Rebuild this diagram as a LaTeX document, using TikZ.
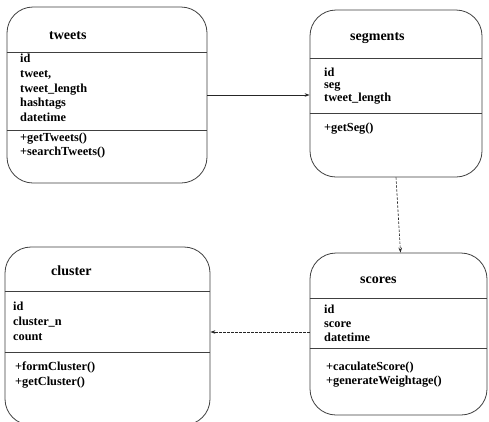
\documentclass[tikz,border=0pt]{standalone}
\usepackage{fontspec}
\setmainfont{Liberation Serif}
\usetikzlibrary{arrows.meta}

\tikzset{
  classbox/.style={draw=black!75, line width=0.8pt, rounded corners=26pt, inner sep=0pt},
  divider/.style={draw=black!75, line width=0.7pt},
  classname/.style={anchor=base west, inner sep=0pt, font=\bfseries\fontsize{14}{16}\selectfont},
  member/.style={anchor=base west, inner sep=0pt, font=\bfseries\fontsize{12.3}{14}\selectfont},
  link/.style={draw=black!85, line width=0.6pt, -{Stealth[length=5pt,width=3.5pt]}},
  deplink/.style={link, dashed, dash pattern=on 2.5pt off 1.5pt}
}

\begin{document}
\begin{tikzpicture}[x=1pt, y=-1pt]
\useasboundingbox[fill=white] (0,0) rectangle (489,421);

% class boxes
\node[classbox, minimum width=200pt, minimum height=176pt] (tweets)   at (107,95)    {};
\node[classbox, minimum width=172pt, minimum height=167pt] (segments) at (396,93.5)  {};
\node[classbox, minimum width=177pt, minimum height=162pt] (scores)   at (398.5,334) {};
\node[classbox, minimum width=205pt, minimum height=178pt] (cluster)  at (107.5,336) {};

% compartments
\draw[divider] (tweets.west |- 0,52)    -- (tweets.east |- 0,52);
\draw[divider] (tweets.west |- 0,130)   -- (tweets.east |- 0,130);
\draw[divider] (segments.west |- 0,58)  -- (segments.east |- 0,58);
\draw[divider] (segments.west |- 0,113) -- (segments.east |- 0,113);
\draw[divider] (scores.west |- 0,298)   -- (scores.east |- 0,298);
\draw[divider] (scores.west |- 0,348)   -- (scores.east |- 0,348);
\draw[divider] (cluster.west |- 0,291)  -- (cluster.east |- 0,291);
\draw[divider] (cluster.west |- 0,352)  -- (cluster.east |- 0,352);

% tweets
\node[classname] (tw-name) at (49,39.5) {tweets};
\node[member] (tw-a1) at (20,62.7)  {id};
\node[member] (tw-a2) at (20,77.4)  {tweet,};
\node[member] (tw-a3) at (20,92.1)  {tweet\_length};
\node[member] (tw-a4) at (20,106.8) {hashtags};
\node[member] (tw-a5) at (20,121.5) {datetime};
\node[member] (tw-m1) at (20,141)   {+getTweets()};
\node[member] (tw-m2) at (20,155)   {+searchTweets()};

% segments
\node[classname] (sg-name) at (350,40) {segments};
\node[member] (sg-a1) at (324,76)   {id};
\node[member] (sg-a2) at (324,88.5) {seg};
\node[member] (sg-a3) at (324,101)  {tweet\_length};
\node[member] (sg-m1) at (324,131)  {+getSeg()};

% scores
\node[classname] (sc-name) at (360,283) {scores};
\node[member] (sc-a1) at (324,313)   {id};
\node[member] (sc-a2) at (324,327)   {score};
\node[member] (sc-a3) at (324,341)   {datetime};
\node[member] (sc-m1) at (326,370)   {+caculateScore()};
\node[member] (sc-m2) at (326,384)   {+generateWeightage()};

% cluster
\node[classname] (cl-name) at (51,275.5) {cluster};
\node[member] (cl-a1) at (13,310)  {id};
\node[member] (cl-a2) at (13,325)  {cluster\_n};
\node[member] (cl-a3) at (13,340)  {count};
\node[member] (cl-m1) at (15,370)  {+formCluster()};
\node[member] (cl-m2) at (15,385)  {+getCluster()};

% relations
\draw[link] (tweets.east) -- (tweets.east -| segments.west);
\draw[deplink] (segments.south) -- ([xshift=2pt]scores.north);
\draw[deplink] ([yshift=2pt]scores.west) -- ([yshift=2pt]scores.west -| cluster.east);
\end{tikzpicture}
\end{document}
